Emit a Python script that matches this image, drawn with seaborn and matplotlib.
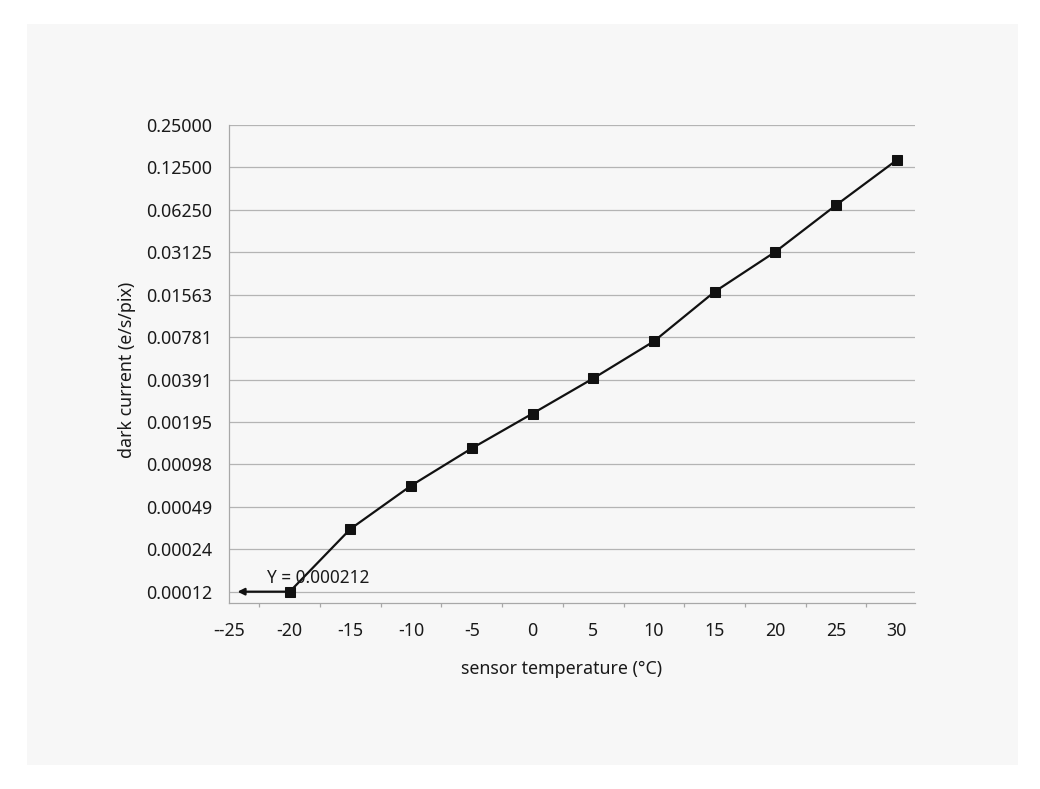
import matplotlib
matplotlib.use("Agg")
import matplotlib.pyplot as plt
from matplotlib.patches import Rectangle
from matplotlib.ticker import FixedLocator, NullLocator
import pandas as pd
import seaborn as sns

# values
temps = [-20, -15, -10, -5, 0, 5, 10, 15, 20, 25, 30]
dark_current = [0.000122, 0.00034, 0.00069, 0.00127, 0.00224, 0.00398,
                0.0073, 0.0164, 0.0315, 0.0675, 0.141]
y_ticks = [0.25 / 2 ** i for i in range(12)]
y_labels = ["0.25000", "0.12500", "0.06250", "0.03125", "0.01563", "0.00781",
            "0.00391", "0.00195", "0.00098", "0.00049", "0.00024", "0.00012"]
x_ticks = [-25, -20, -15, -10, -5, 0, 5, 10, 15, 20, 25, 30]
x_labels = ["--25", "-20", "-15", "-10", "-5", "0", "5", "10", "15", "20", "25", "30"]
note_text = "Y = 0.000212"

df = pd.DataFrame({"temp": temps, "current": dark_current})

sns.set_style("white")
plt.rcParams["font.family"] = ["Noto Sans", "DejaVu Sans"]

fig = plt.figure(figsize=(10.4, 7.89), dpi=100)
fig.patches.append(Rectangle((27 / 1040, 1 - 765 / 789), 991 / 1040, 741 / 789,
                             transform=fig.transFigure, facecolor="#f7f7f7",
                             edgecolor="none", zorder=-10))
ax = fig.add_axes([229 / 1040, 1 - 603 / 789, 686 / 1040, 478 / 789])
ax.set_facecolor("none")

sns.lineplot(data=df, x="temp", y="current", ax=ax, color="#111111",
             linewidth=1.6, marker="s", markersize=7.5,
             markeredgecolor="#111111", zorder=5)

ax.set_yscale("log", base=2)
ax.set_ylim(0.0001014, 0.25)
ax.set_xlim(-25, 31.5)
ax.yaxis.set_major_locator(FixedLocator(y_ticks))
ax.set_yticklabels(y_labels)
ax.yaxis.set_minor_locator(NullLocator())
ax.set_xticks(x_ticks)
ax.set_xticklabels(x_labels)
ax.set_xticks([-22.5 + 5 * i for i in range(11)], minor=True)

ax.grid(axis="y", color="#b4b4b4", linewidth=0.9)
ax.grid(axis="x", visible=False)
for s in ["top", "right"]:
    ax.spines[s].set_visible(False)
for s in ["left", "bottom"]:
    ax.spines[s].set_color("#a8a8a8")
    ax.spines[s].set_linewidth(0.9)

ax.tick_params(axis="y", which="major", length=5, width=0.9, color="#a8a8a8",
               labelsize=12.8, labelcolor="#1a1a1a", pad=7)
ax.tick_params(axis="x", which="major", length=5.8, width=0.9, color="#a8a8a8",
               labelsize=12.8, labelcolor="#1a1a1a", pad=8)
ax.tick_params(axis="x", which="minor", length=3, width=0.9, color="#a8a8a8",
               bottom=True)

ax.set_xlabel("sensor temperature (°C)", fontsize=12.8, color="#1a1a1a")
ax.set_ylabel("dark current (e/s/pix)", fontsize=12.8, color="#1a1a1a")
ax.xaxis.set_label_coords(0.4854, -0.12)
ax.yaxis.set_label_coords(-0.1356, 0.488)

ax.annotate("", xy=(-24.3, dark_current[0]), xytext=(-20, dark_current[0]),
            arrowprops=dict(arrowstyle="-|>", color="#111111", lw=1.6,
                            mutation_scale=10, shrinkA=0, shrinkB=0), zorder=4)
ax.annotate(note_text, xy=(-21.9, dark_current[0]), xytext=(0, 9.5),
            textcoords="offset points", fontsize=12.4, color="#1a1a1a",
            va="center", ha="left", zorder=6)

fig.savefig("out.png", dpi=100)
